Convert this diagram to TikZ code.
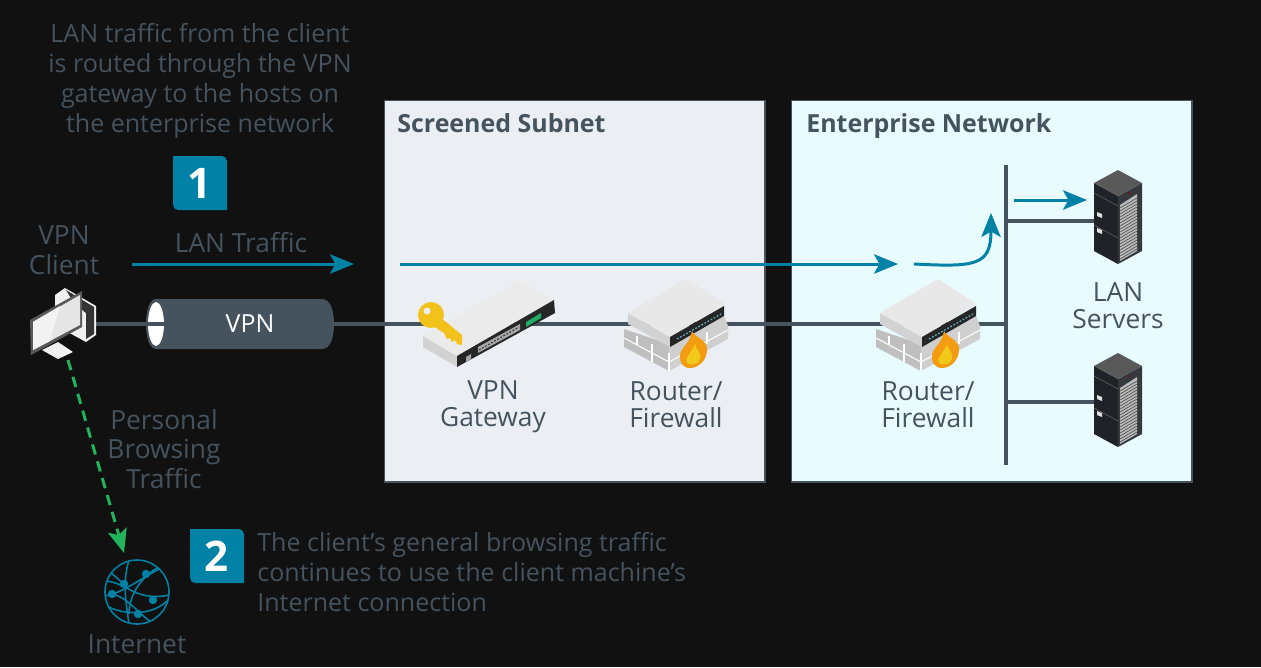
\documentclass[tikz,border=0pt]{standalone}
\usepackage{fontspec}
\setmainfont{Open Sans}
\usepackage{xcolor}
\usetikzlibrary{arrows.meta,calc}
\definecolor{bgdark}{HTML}{111111}
\definecolor{slate}{HTML}{45535F}
\definecolor{teal}{HTML}{0082A6}
\definecolor{greenline}{HTML}{22B45A}
\definecolor{screenfill}{HTML}{EBEFF3}
\definecolor{lanfill}{HTML}{E8FBFF}
\definecolor{flameout}{HTML}{F39C12}
\definecolor{flamein}{HTML}{F2C81A}
\definecolor{keygold}{HTML}{F2C21B}
\definecolor{rackdark}{HTML}{1F2328}
\tikzset{
	lbl/.style={text=slate,align=center,inner sep=0pt,font=\fontsize{15}{17}\selectfont},
	notelbl/.style={lbl,font=\fontsize{14.25}{17}\selectfont},
	devlbl/.style={lbl,font=\fontsize{15}{15.4}\selectfont},
	zone/.style={draw=slate,line width=1.1pt,minimum width=#1,minimum height=217pt,inner sep=0pt,anchor=north west},
	zonelbl/.style={text=slate,inner sep=0pt,anchor=base west,font=\fontsize{14.2}{17}\selectfont\bfseries},
	wire/.style={draw=slate,line width=1.8pt},
	lanflow/.style={draw=teal,line width=1.7pt,-{Stealth[length=13.6pt,width=11pt,inset=3pt]}},
	webflow/.style={draw=greenline,line width=1.7pt,dash pattern=on 6pt off 4pt,-{Stealth[length=13.6pt,width=11pt,inset=3pt]}},
	badge/.style={text=white,inner sep=0pt,font=\fontsize{24}{24}\selectfont\bfseries},
	router/.pic={
		\fill[gray!50] (-53,5) -- (-53,23) -- (-8,47) -- (-8,20) -- cycle;
		\fill[gray!38] (-8,47) -- (51,15) -- (51,2) -- (47,-8) -- (-8,20) -- cycle;
		\draw[white,line width=0.6pt] (-53,14) -- (-8,38) -- (51,6);
		\draw[white,line width=0.6pt] (-40,12) -- (-40,21) (-25,20) -- (-25,38) (-8,29) -- (-8,47) (12,18) -- (12,36) (30,8) -- (30,20);
		\fill[gray!35] (-49,-11) -- (-7,13) -- (-7,23) -- (-49,0) -- cycle;
		\fill[gray!18] (9,-45) -- (48,-20) -- (-7,13) -- (-49,-11) -- cycle;
		\fill[black!85] (-7,13) -- (47,-18) -- (47,-8) -- (-7,23) -- cycle;
		\draw[teal!60,line width=0.7pt,dash pattern=on 1pt off 1pt] (0,15) -- (44,-10);
		\fill[flameout] (15,7) .. controls (18,14) and (31,15) .. (30,27) .. controls (29,38) and (20,44) .. (13,44) .. controls (5,44) and (2,37) .. (3,31) .. controls (4,23) and (13,20) .. (15,7) -- cycle;
		\fill[flamein] (18,20) .. controls (19,26) and (25,29) .. (23,35) .. controls (21,41) and (13,42) .. (10,39) .. controls (7,34) and (14,30) .. (18,20) -- cycle;
	},
	server/.pic={
		\fill[rackdark] (-24,-34) -- (0,-21) -- (0,47) -- (-24,34) -- cycle;
		\fill[rackdark!90!white] (0,-21) -- (24,-34) -- (24,34) -- (0,47) -- cycle;
		\fill[black!65] (0,-47) -- (24,-34) -- (0,-21) -- (-24,-34) -- cycle;
		\fill[gray!55] (2,-12) -- (19,-23) -- (19,34) -- (2,44) -- cycle;
		\foreach \d in {-9,-6,...,42} \draw[black!75,line width=0.3pt] (2,\d) -- (19,\d-10);
		\draw[black!60,line width=0.3pt] (-24,-24) -- (0,-11) (-24,8) -- (0,21);
		\fill[gray!25] (-21,-5) -- (-16,-3) -- (-16,1) -- (-21,-1) -- cycle (-21,11) -- (-16,13) -- (-16,17) -- (-21,15) -- cycle;
		\fill[red!60!black] (11,-24) circle (1.2);
	}
}
\begin{document}
\begin{tikzpicture}[x=0.02cm,y=-0.02cm]
	\useasboundingbox (0,0) rectangle (1261,667);
	\fill[bgdark] (0,0) rectangle (1261,667);
	% zones
	\node[zone=216.8pt,fill=screenfill] (screened) at (383.5,99.5) {};
	\node[zone=228.2pt,fill=lanfill] (enterprise) at (790.5,99.5) {};
	\node[zonelbl] (screenedlbl) at (397,132) {Screened Subnet};
	\node[zonelbl] (enterpriselbl) at (806,132) {Enterprise Network};
	% anchor points of the devices
	\coordinate (client) at (95,324);
	\coordinate (tunnelA) at (150,324);
	\coordinate (tunnelB) at (334,324);
	\coordinate (gateway) at (488,324);
	\coordinate (routerA) at (677,324);
	\coordinate (routerB) at (929,324);
	\coordinate (busT) at (1006,165);
	\coordinate (busB) at (1006,465);
	\coordinate (busC) at (1006,324);
	\coordinate (busD) at (1006,221);
	\coordinate (busE) at (1006,402);
	\coordinate (serverA) at (1118,221);
	\coordinate (serverB) at (1118,402);
	\coordinate (pc) at (68,360);
	\coordinate (web) at (124,553);
	% wires
	\draw[wire] (client) -- (tunnelA);
	\draw[wire] (tunnelB) -- (gateway) -- (routerA) -- (routerB) -- (busC);
	\draw[wire] (busT) -- (busB);
	\draw[wire] (busD) -- (serverA);
	\draw[wire] (busE) -- (serverB);
	% tunnel
	\fill[slate] (156,299) -- (322,299) .. controls (331,299) and (334,312) .. (334,324) .. controls (334,336) and (331,349) .. (322,349) -- (156,349) .. controls (149,349) and (146,336) .. (146,324) .. controls (146,312) and (149,299) .. (156,299) -- cycle;
	\fill[white] (156,324) ellipse [x radius=8,y radius=22];
	\draw[wire] (146,324) -- (164,324);
	\node[text=white,inner sep=0pt,font=\fontsize{14.2}{17}\selectfont] (tunnel) at (250,324) {VPN};
	% client
	\fill[gray!12] (55,295) -- (65,288) -- (96,306) -- (96,335) -- (86,342) -- (55,325) -- cycle;
	\fill[black!80] (66,290) -- (94,307) -- (94,334) -- (86,339) -- (86,313) -- (74,303) -- cycle;
	\fill[gray!10] (42,350) -- (58,342) -- (73,352) -- (58,359) -- cycle;
	\fill[black!65] (30,320) -- (82,291) -- (82,327) -- (31,355) -- cycle;
	\fill[gray!20] (33,322) -- (80,295) -- (80,325) -- (33,350) -- cycle;
	\fill[gray!10] (33,322) -- (60,306) -- (50,341) -- (33,350) -- cycle;
	% gateway
	\begin{scope}[shift={(488,323)}]
		\fill[gray!35] (-65,13) -- (-31,33) -- (-31,44) -- (-65,24) -- cycle;
		\fill[gray!16] (32,-43) -- (66,-23) -- (-31,33) -- (-65,13) -- cycle;
		\fill[black!85] (-31,33) -- (66,-23) -- (67,-10) -- (-31,44) -- cycle;
		\fill[gray!70] (-10,24) -- (32,1) -- (32,7) -- (-10,30) -- cycle;
		\draw[black!80,line width=0.6pt,dash pattern=on 1pt off 1pt] (-9,27) -- (31,4);
		\fill[gray!70] (-22,34) -- (-17,31) -- (-17,36) -- (-22,39) -- cycle;
		\fill[teal!55!green!75!gray] (38,-1) -- (53,-10) -- (53,-5) -- (38,4) -- cycle;
		% key
		\fill[keygold] (-57,-8) circle (13);
		\fill[keygold] (-47,-5) -- (-26,12) -- (-26,22) -- (-31,21) -- (-33,17) -- (-36,19) -- (-38,15) -- (-41,16) -- (-44,10) -- (-55,3) -- cycle;
		\fill[screenfill] (-61,-12) circle (3.5);
	\end{scope}
	\pic at (routerA) {router};
	\pic at (routerB) {router};
	\pic at (1118,217) {server};
	\pic at (1118,400) {server};
	% traffic
	\coordinate (lanA) at (132,264);
	\coordinate (lanB) at (354,264);
	\coordinate (lanC) at (400,264);
	\coordinate (lanD) at (898,264);
	\coordinate (lanE) at (914,264);
	\coordinate (lanF) at (991,213);
	\coordinate (lanG) at (1014,200);
	\coordinate (lanH) at (1087,200);
	\draw[lanflow] (lanA) -- (lanB);
	\draw[lanflow] (lanC) -- (lanD);
	\draw[lanflow] (lanE) .. controls (975,267) and (991,266) .. (lanF);
	\draw[lanflow] (lanG) -- (lanH);
	\draw[webflow] (pc) -- (web);
	% badges
	\fill[teal,rounded corners=3pt] (173,156) -- (227,156) -- (227,182) [sharp corners] -- (227,210) [rounded corners=3pt] -- (173,210) -- (173,183) [sharp corners] -- cycle;
	\fill[teal,rounded corners=3pt] (190,529) -- (244,529) -- (244,556) [sharp corners] -- (244,583) [rounded corners=3pt] -- (190,583) -- (190,556) [sharp corners] -- cycle;
	\node[badge] (stepone) at (200,183) {1};
	\node[badge] (steptwo) at (217,556) {2};
	% globe
	\begin{scope}[shift={(137,592)},teal,line width=0.9pt]
		\draw (0,0) circle (32);
		\clip (0,0) circle (32);
		\draw (-8,-32) .. controls (-14,-12) and (-12,5) .. (-8,32);
		\draw (22,-25) .. controls (8,-18) and (-8,0) .. (-8,22);
		\draw (-32,-11) .. controls (-10,-10) and (-2,10) .. (32,3);
		\draw (-33,4) .. controls (-15,2) and (5,-15) .. (30,-27);
		\draw (-28,15) .. controls (-15,22) and (15,25) .. (31,8);
		\draw (-25,2) .. controls (-10,5) and (0,20) .. (14,30);
		\draw (-12,-7) -- (-28,-21);
		\fill (9,-18) circle (4.2) (-13,-8) circle (4.2) (-25,2) circle (4.2) (16,8) circle (4.2) (1,22) circle (4.2);
	\end{scope}
	% texts
	\node[notelbl] (introone) at (200,81) {LAN traffic from the client\\is routed through the VPN\\gateway to the hosts on\\the enterprise network};
	\node[lbl] (clientlbl) at (64,250) {VPN\\Client};
	\node[lbl] (lanlbl) at (241,243) {LAN Traffic};
	\node[lbl] (browselbl) at (164,449) {Personal\\Browsing\\Traffic};
	\node[lbl] (weblbl) at (137,644) {Internet};
	\node[devlbl] (gatewaylbl) at (493,407) {VPN\\Gateway};
	\node[devlbl] (routerAlbl) at (676,405) {Router/\\Firewall};
	\node[devlbl] (routerBlbl) at (928,405) {Router/\\Firewall};
	\node[devlbl] (serverlbl) at (1118,306) {LAN\\Servers};
	\node[notelbl,align=left,anchor=west] (introtwo) at (257,572) {The client’s general browsing traffic\\continues to use the client machine’s\\Internet connection};
\end{tikzpicture}
\end{document}
